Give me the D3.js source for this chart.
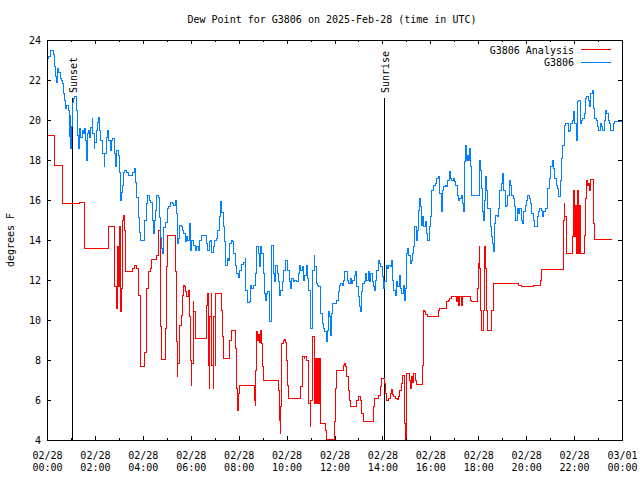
<!DOCTYPE html>
<html><head><meta charset="utf-8">
<script src="https://cdn.jsdelivr.net/npm/d3@7"></script>
<style>
body{margin:0;background:#fff}
svg text{font-family:"DejaVu Sans Mono","Liberation Mono",monospace;font-size:10px;fill:#000}
</style>
</head><body>
<svg id="c" width="640" height="480"></svg>
<script>
// ---- data (minutes after 2025-02-28 00:00 UTC, dew point in F) ----
const blueMinutes = [0,3,8,13,16,18,22,25,27,30,33,37,38,41,43,47,50,53,56,58,59,62,63,67,70,74,75,77,78,81,85,88,92,93,97,98,101,104,107,109,113,115,118,120,123,126,128,131,133,137,140,143,145,148,152,155,159,162,165,169,172,175,179,182,185,187,190,192,195,200,204,209,214,218,222,225,229,232,235,242,245,249,252,256,260,264,266,269,272,275,279,281,285,287,290,293,297,301,305,310,314,317,321,324,326,329,332,336,340,343,346,350,353,356,360,363,367,371,375,379,382,386,396,399,402,406,409,412,416,420,424,427,431,434,437,441,444,447,451,454,457,461,464,467,471,475,479,483,486,492,496,498,503,507,510,513,517,521,525,529,532,535,538,542,545,548,550,553,556,558,561,563,567,569,573,576,579,583,586,589,593,597,600,603,607,610,613,617,621,625,629,632,635,639,642,645,649,652,655,659,661,664,666,669,671,674,678,681,684,686,689,693,696,699,702,704,707,709,713,716,721,725,729,732,735,739,742,745,749,752,755,759,762,765,769,772,775,779,782,785,787,790,794,797,800,804,807,811,814,817,820,822,826,829,832,836,839,842,846,849,852,856,859,862,866,869,872,876,879,882,886,889,892,896,898,901,903,906,910,913,916,919,921,925,927,930,932,935,937,940,943,947,950,953,957,960,963,967,972,976,980,984,987,991,994,997,1001,1004,1007,1011,1014,1017,1021,1024,1027,1031,1034,1037,1040,1042,1045,1047,1050,1052,1055,1058,1061,1063,1082,1085,1087,1090,1092,1095,1098,1101,1104,1110,1113,1115,1118,1121,1124,1128,1131,1134,1138,1141,1144,1148,1151,1154,1158,1161,1164,1168,1171,1174,1178,1181,1184,1188,1191,1194,1198,1201,1204,1208,1211,1214,1218,1221,1228,1231,1234,1238,1241,1244,1248,1254,1258,1261,1265,1268,1271,1275,1278,1281,1285,1288,1291,1295,1298,1305,1308,1311,1315,1318,1321,1325,1328,1331,1335,1338,1341,1345,1348,1351,1355,1358,1361,1365,1368,1371,1375,1378,1381,1385,1388,1391,1395,1398,1401,1405,1408,1411,1418,1422,1440];
const blueValues = [23.1,23.2,23.5,23.5,23.3,22.7,22.2,21.9,22.6,22.4,22.1,22.0,21.85,21.35,21.0,20.6,20.75,20.5,19.2,20.25,18.6,19.67,20.9,21.1,21.2,21.2,20.5,19.25,18.6,19.6,19.15,19.5,19.35,19.6,19.0,18.0,19.35,19.5,19.15,19.65,20.1,19.35,18.6,18.9,19.5,19.9,20.15,19.5,19.0,19.0,18.35,17.67,18.35,19.15,19.5,19.0,18.5,19.0,19.1,18.35,17.67,18.5,18.25,17.4,16.0,16.4,16.75,17.4,17.5,17.4,17.25,17.25,17.4,17.6,16.9,16.15,15.15,14.4,14.0,14.0,15.0,15.85,16.25,16.0,15.9,15.0,14.35,15.0,15.5,16.25,16.15,15.15,14.15,13.6,13.35,14.65,14.9,15.6,15.67,15.9,15.85,15.75,16.0,15.33,13.83,14.1,14.75,14.67,14.5,14.33,13.92,14.17,14.0,14.83,13.5,14.0,13.75,13.5,13.67,13.5,14.0,14.25,14.25,13.83,13.5,13.92,14.0,13.4,13.67,14.0,14.1,14.5,15.17,15.92,15.4,14.67,13.92,12.75,13.08,13.0,13.83,14.0,13.92,13.33,12.75,12.33,12.13,12.5,12.8,12.9,13.08,11.5,10.87,10.92,11.75,11.58,11.75,12.33,13.67,13.33,12.67,13.67,13.33,12.33,11.33,11.0,11.33,11.42,10.83,9.92,11.0,13.75,12.33,11.92,12.75,12.33,11.92,11.25,11.5,11.92,12.5,13.0,13.0,12.5,11.92,11.58,12.08,11.92,12.0,11.92,12.33,12.75,12.5,12.67,12.0,12.25,12.75,12.08,11.5,10.17,9.58,11.33,12.5,13.25,12.67,11.83,11.75,11.67,11.08,10.33,9.83,9.58,9.42,8.92,9.5,10.42,10.17,9.25,10.33,10.83,10.83,11.0,11.42,11.75,11.83,11.75,12.0,12.42,12.42,12.0,11.83,12.08,11.83,12.0,12.25,12.42,11.67,11.17,10.67,10.42,11.42,11.83,11.92,12.33,12.0,12.42,11.92,12.33,11.92,11.67,11.5,12.0,12.5,13.0,12.83,12.67,12.17,11.58,11.92,12.75,12.58,12.75,12.67,13.0,12.0,11.5,11.25,11.92,11.67,12.25,11.58,11.33,11.75,11.0,11.58,13.33,13.58,13.25,12.83,13.0,13.33,13.67,14.67,14.0,14.5,15.5,16.08,15.67,14.75,15.17,14.67,14.92,14.33,14.0,14.67,15.2,16.5,16.75,16.83,17.08,17.2,16.33,15.42,16.5,16.67,16.75,16.67,17.0,17.45,17.08,17.0,17.08,16.92,16.75,16.25,16.0,16.08,16.25,15.83,15.42,17.92,18.75,18.0,18.25,18.0,18.58,17.67,16.25,18.0,17.5,16.58,15.42,15.0,16.0,17.17,16.5,15.58,14.67,14.17,13.83,13.42,14.83,15.25,15.17,15.58,16.5,16.83,17.33,16.5,15.67,15.75,16.25,17.0,16.75,16.25,16.08,15.67,15.0,15.58,15.33,15.58,15.0,14.83,15.42,15.75,16.0,16.25,16.08,15.83,15.33,15.0,14.67,15.17,15.42,15.58,15.5,15.17,15.42,15.58,16.58,17.08,17.67,18.0,17.58,17.08,16.75,16.58,16.17,17.0,18.08,18.75,19.75,19.83,19.42,19.5,19.83,20.0,20.42,19.83,19.0,20.92,21.0,19.83,20.0,20.08,20.33,21.08,21.17,21.0,20.67,21.33,21.5,20.58,20.08,20.0,19.67,19.5,19.83,19.67,19.5,20.0,20.5,20.33,20.0,19.83,19.5,19.83,19.92,19.92];

const redMinutes = [0,18,40,81,95,153,155,168,174,176,179,181,184,186,190,192,195,197,214,218,225,229,233,235,245,248,250,254,258,261,275,278,280,283,284,286,297,300,302,322,325,326,328,331,333,336,340,341,344,346,350,354,356,359,361,363,366,368,371,373,399,401,404,406,408,411,413,416,418,421,422,437,440,442,458,461,472,475,477,479,482,519,521,523,525,528,530,533,535,538,540,542,581,583,584,586,588,592,594,598,600,603,604,636,639,641,644,646,649,651,656,659,661,664,671,673,675,678,680,683,684,698,699,719,722,725,742,744,747,750,754,757,760,775,779,786,788,792,817,820,831,834,838,845,847,851,855,859,862,866,869,872,877,881,884,887,891,896,898,900,901,907,910,912,916,918,924,926,940,942,945,948,952,980,984,1001,1005,1009,1013,1026,1028,1031,1034,1037,1041,1061,1064,1078,1080,1082,1084,1086,1087,1094,1096,1098,1101,1103,1114,1117,1119,1180,1189,1219,1237,1239,1293,1295,1297,1300,1301,1316,1319,1321,1324,1326,1328,1330,1333,1335,1345,1348,1350,1353,1355,1358,1360,1361,1368,1370,1416];
const redValues = [19.25,17.75,15.85,15.9,13.6,13.83,14.67,11.67,10.58,13.7,11.67,14.67,10.42,11.58,15.0,15.25,14.5,12.42,12.58,12.75,12.6,11.25,8.83,7.7,8.4,10.1,11.58,12.42,12.58,13.05,13.25,13.75,14.5,14.0,9.67,8.05,9.58,12.67,14.25,12.42,8.92,7.17,7.83,9.08,9.75,10.25,11.25,11.75,11.67,11.42,11.2,11.5,10.17,8.0,6.75,7.83,10.92,10.42,9.83,9.08,10.75,11.33,7.75,6.58,10.17,11.33,7.75,6.58,10.17,7.75,11.33,10.5,9.17,8.08,9.0,9.5,8.58,6.58,5.5,6.33,6.75,6.0,5.75,7.5,9.42,9.0,9.3,8.9,9.5,8.83,7.67,7.0,6.5,5.0,4.33,5.67,8.83,9.0,9.05,8.9,8.0,6.75,6.08,6.67,8.08,8.17,8.08,8.17,8.08,8.0,5.83,4.67,6.0,9.17,5.83,8.08,5.83,8.08,5.83,8.08,4.83,4.5,4.05,4.92,6.58,7.5,7.75,7.85,7.7,7.17,6.5,6.0,5.7,6.0,6.2,6.0,5.33,4.92,5.67,6.08,6.25,6.67,7.08,6.83,6.33,6.0,6.1,6.33,6.55,6.3,6.17,6.08,6.03,6.2,6.5,6.83,7.25,4.83,4.0,4.83,7.33,7.0,6.58,7.17,6.9,7.33,7.0,6.8,7.75,10.5,10.45,10.3,10.17,10.5,10.6,10.92,11.0,11.08,11.17,10.92,11.17,10.75,11.17,10.75,11.17,11.0,10.95,11.58,12.83,13.67,12.58,10.5,9.5,10.5,13.67,12.58,10.5,9.5,10.5,11.8,11.85,11.75,11.67,11.75,12.0,12.55,15.0,15.83,15.17,14.0,13.33,14.17,16.5,14.17,15.75,13.33,16.5,13.33,15.75,13.33,14.25,16.08,17.0,16.75,16.83,16.5,16.83,17.05,14.83,14.05,14.05];

const yTicks = [4,6,8,10,12,14,16,18,20,22,24];
const xTickMinutes = [0,120,240,360,480,600,720,840,960,1080,1200,1320,1440];
const xTickDates = ["02/28","02/28","02/28","02/28","02/28","02/28","02/28","02/28","02/28","02/28","02/28","02/28","03/01"];
const xTickTimes = ["00:00","02:00","04:00","06:00","08:00","10:00","12:00","14:00","16:00","18:00","20:00","22:00","00:00"];
const xMinorMinutes = [60,180,300,420,540,660,780,900,1020,1140,1260,1380];
const sunEvents = [{label:"Sunset", minute:63},{label:"Sunrise", minute:845}];
const seriesNames = ["G3806 Analysis","G3806"];
const seriesColors = ["#ff0000","#0080ff"];
const titleText = "Dew Point for G3806 on 2025-Feb-28 (time in UTC)";
const yLabel = "degrees F";

(function(){
// ---- layout ----
const L = 47, R = 622, T = 40, B = 440;
const svg = d3.select("#c");
const x = d3.scaleLinear().domain([0,1440]).range([L,R]);
const y = d3.scaleLinear().domain([4,24]).range([B,T]);

svg.append("rect").attr("width",640).attr("height",480).attr("fill","#fff");

// title & y label
svg.append("text").attr("x",332).attr("y",23).attr("text-anchor","middle").text(titleText);
svg.append("text").attr("transform","translate(13.5,240) rotate(-90)").attr("text-anchor","middle").text(yLabel);

// sunset / sunrise markers
sunEvents.forEach(e=>{
  const xe = Math.round(x(e.minute))+0.5;
  svg.append("line").attr("x1",xe).attr("x2",xe).attr("y1",98).attr("y2",B)
    .attr("stroke","#000").attr("stroke-width",1).attr("shape-rendering","crispEdges");
  svg.append("text").attr("transform",`translate(${xe+4.5},93) rotate(-90)`).attr("text-anchor","start").text(e.label);
});

// series
svg.append("clipPath").attr("id","pc").append("rect")
  .attr("x",L).attr("y",T-1).attr("width",R-L).attr("height",B-T+2);
const line = d3.line().x(d=>x(d[0])).y(d=>y(d[1])).curve(d3.curveStepAfter);
const redData = redMinutes.map((m,i)=>[m,redValues[i]]);
const blueData = blueMinutes.map((m,i)=>[m,blueValues[i]]);
const g = svg.append("g").attr("clip-path","url(#pc)");
g.append("path").datum(redData).attr("d",line).attr("fill","none")
  .attr("stroke",seriesColors[0]).attr("stroke-width",1).attr("shape-rendering","crispEdges");
g.append("path").datum(blueData).attr("d",line).attr("fill","none")
  .attr("stroke",seriesColors[1]).attr("stroke-width",1).attr("shape-rendering","crispEdges");

// axes
function styleAxis(sel){
  sel.select(".domain").remove();
  sel.selectAll("line").attr("stroke","#000").attr("shape-rendering","crispEdges");
  sel.selectAll("text").style("font-family",'"DejaVu Sans Mono",monospace').style("font-size","10px");
}
const axB = svg.append("g").attr("transform",`translate(0,${B})`)
  .call(d3.axisBottom(x).tickValues(xTickMinutes).tickSizeInner(-4).tickSizeOuter(0).tickFormat(()=>""));
styleAxis(axB);
axB.selectAll(".tick text").each(function(d,i){
  const t = d3.select(this).attr("y",19).attr("dy",null);
  t.append("tspan").attr("x",0).attr("y",19).text(xTickDates[i]);
  t.append("tspan").attr("x",0).attr("y",31).text(xTickTimes[i]);
});
const axBm = svg.append("g").attr("transform",`translate(0,${B})`)
  .call(d3.axisBottom(x).tickValues(xMinorMinutes).tickSizeInner(-2).tickSizeOuter(0).tickFormat(()=>""));
styleAxis(axBm);
const axT = svg.append("g").attr("transform",`translate(0,${T})`)
  .call(d3.axisTop(x).tickValues(xTickMinutes).tickSizeInner(-4).tickSizeOuter(0).tickFormat(()=>""));
styleAxis(axT);
const axTm = svg.append("g").attr("transform",`translate(0,${T})`)
  .call(d3.axisTop(x).tickValues(xMinorMinutes).tickSizeInner(-2).tickSizeOuter(0).tickFormat(()=>""));
styleAxis(axTm);
const axL = svg.append("g").attr("transform",`translate(${L},0)`)
  .call(d3.axisLeft(y).tickValues(yTicks).tickSizeInner(-4).tickSizeOuter(0).tickPadding(6).tickFormat(d3.format("d")));
styleAxis(axL);
const axR = svg.append("g").attr("transform",`translate(${R},0)`)
  .call(d3.axisRight(y).tickValues(yTicks).tickSizeInner(-4).tickSizeOuter(0).tickFormat(()=>""));
styleAxis(axR);

// frame
svg.append("rect").attr("x",L+0.5).attr("y",T+0.5).attr("width",R-L).attr("height",B-T)
  .attr("fill","none").attr("stroke","#000").attr("shape-rendering","crispEdges");

// legend
seriesNames.forEach((n,i)=>{
  const yy = 50 + i*12.7;
  svg.append("text").attr("x",574).attr("y",yy).attr("dy","0.35em").attr("text-anchor","end").text(n);
  svg.append("line").attr("x1",581).attr("x2",611).attr("y1",Math.round(yy)-0.5).attr("y2",Math.round(yy)-0.5)
    .attr("stroke",seriesColors[i]).attr("stroke-width",1).attr("shape-rendering","crispEdges");
});
})();
</script>
</body></html>
